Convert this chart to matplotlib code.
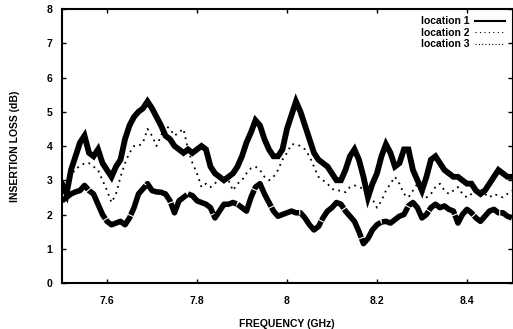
import numpy as np
import matplotlib
matplotlib.use("Agg")
import matplotlib.pyplot as plt
from matplotlib.lines import Line2D

freq = np.round(np.arange(7.50, 8.5001, 0.01), 2)

loc1 = [2.9, 2.6, 3.3, 3.7, 4.1, 4.3, 3.8, 3.7, 3.9, 3.5,
        3.3, 3.1, 3.4, 3.6, 4.2, 4.6, 4.85, 5.0, 5.1, 5.3,
        5.1, 4.85, 4.6, 4.3, 4.2, 4.0, 3.9, 3.8, 3.9, 3.8,
        3.9, 4.0, 3.9, 3.4, 3.2, 3.1, 3.0, 3.1, 3.2, 3.4,
        3.7, 4.1, 4.4, 4.75, 4.6, 4.2, 3.9, 3.7, 3.7, 3.9,
        4.5, 4.9, 5.3, 5.0, 4.6, 4.2, 3.8, 3.6, 3.5, 3.4,
        3.2, 3.0, 3.0, 3.3, 3.7, 3.9, 3.6, 3.1, 2.5, 2.9,
        3.2, 3.7, 4.05, 3.8, 3.4, 3.5, 3.9, 3.9, 3.3, 3.0,
        2.7, 3.1, 3.6, 3.7, 3.5, 3.3, 3.2, 3.1, 3.1, 3.0,
        2.9, 2.9, 2.7, 2.6, 2.7, 2.9, 3.1, 3.3, 3.2, 3.1, 3.1]

loc2 = [2.8, 2.9, 3.1, 3.35, 3.4, 3.5, 3.5, 3.4, 3.3, 3.0,
        2.7, 2.35, 2.6, 3.1, 3.5, 3.8, 4.0, 4.0, 4.1, 4.5,
        4.3, 4.0, 4.3, 4.6, 4.5, 4.3, 4.4, 4.5, 3.9, 3.5,
        3.2, 2.8, 2.9, 2.8, 2.9, 3.1, 3.1, 3.0, 2.7, 2.9,
        3.0, 3.2, 3.35, 3.4, 3.3, 3.1, 3.0, 3.1, 3.3, 3.6,
        3.8, 4.05, 4.05, 4.0, 3.9, 3.7, 3.4, 3.1, 3.0, 2.9,
        2.75, 2.7, 2.7, 2.65, 2.8, 2.85, 2.8, 2.75, 2.6, 2.45,
        2.2, 2.4, 2.7, 2.9, 3.1, 2.9, 2.6, 2.5, 2.7, 2.9,
        2.7, 2.5, 2.6, 2.8, 2.9, 2.7, 2.6, 2.7, 2.8, 2.6,
        2.5, 2.6, 2.7, 2.75, 2.6, 2.5, 2.6, 2.55, 2.5, 2.6, 2.7]

loc3 = [2.4, 2.5, 2.6, 2.66, 2.7, 2.85, 2.7, 2.6, 2.3, 2.0,
        1.8, 1.7, 1.75, 1.8, 1.7, 1.9, 2.2, 2.6, 2.75, 2.9,
        2.7, 2.66, 2.65, 2.6, 2.4, 2.05, 2.4, 2.5, 2.6, 2.55,
        2.4, 2.35, 2.3, 2.2, 1.9, 2.1, 2.3, 2.3, 2.35, 2.3,
        2.2, 2.1, 2.5, 2.8, 2.9, 2.6, 2.35, 2.1, 1.95, 2.0,
        2.05, 2.1, 2.05, 2.05, 1.9, 1.7, 1.55, 1.65, 1.9, 2.1,
        2.2, 2.35, 2.3, 2.1, 1.95, 1.8, 1.5, 1.15, 1.3, 1.55,
        1.7, 1.78, 1.8, 1.75, 1.85, 1.95, 2.0, 2.25, 2.35, 2.2,
        1.9, 2.0, 2.2, 2.3, 2.2, 2.25, 2.15, 2.1, 1.75, 2.0,
        2.15, 2.05, 1.9, 1.8, 1.95, 2.1, 2.15, 2.05, 2.05, 1.95, 1.9]

xticks = [7.6, 7.8, 8.0, 8.2, 8.4]
xtick_labels = ["7.6", "7.8", "8", "8.2", "8.4"]
yticks = [0, 1, 2, 3, 4, 5, 6, 7, 8]

plt.rcParams['font.family'] = ['Liberation Sans', 'DejaVu Sans']
plt.rcParams['font.weight'] = 'bold'

fig = plt.figure(figsize=(5.13, 3.29), dpi=100)
ax = fig.add_axes([0.1209, 0.1398, 0.877, 0.8328])

ax.plot(freq, loc1, color='black', lw=4.2, solid_joinstyle='miter')
ax.plot(freq, loc2, color='black', lw=1.3, ls=(0, (1, 2.5)))
ax.plot(freq, loc3, color='black', lw=4.0, ls=(0, (6, 0.2)))

ax.set_xlim(7.5, 8.5)
ax.set_ylim(0, 8)
ax.set_xticks(xticks)
ax.set_xticklabels(xtick_labels)
ax.set_yticks(yticks)
ax.tick_params(direction='in', length=3, width=1, top=True, right=True,
               labelsize=7.5, pad=9)
ax.tick_params(axis='y', pad=7)
for lab in ax.get_xticklabels() + ax.get_yticklabels():
    lab.set_fontweight('bold')
for s in ['left', 'bottom', 'top']:
    ax.spines[s].set_linewidth(1.5)
ax.spines['right'].set_linewidth(0.8)

ax.set_xlabel("FREQUENCY (GHz)", fontsize=7.5, fontweight='bold', labelpad=10)
ax.set_ylabel("INSERTION LOSS (dB)", fontsize=7.5, fontweight='bold', labelpad=19)

handles = [Line2D([], [], color='black', lw=1.5),
           Line2D([], [], color='black', lw=0.8, ls=(0, (1, 3))),
           Line2D([], [], color='black', lw=0.8, ls=(0, (1, 2)))]
leg = ax.legend(handles, ["location 1", "location 2", "location 3"],
                loc='upper right', frameon=False, fontsize=7.5,
                handlelength=2.8, handletextpad=0.6, labelspacing=0.15,
                markerfirst=False, borderaxespad=0.3)
for t in leg.get_texts():
    t.set_fontweight('bold')

fig.savefig("out.png", dpi=100)
